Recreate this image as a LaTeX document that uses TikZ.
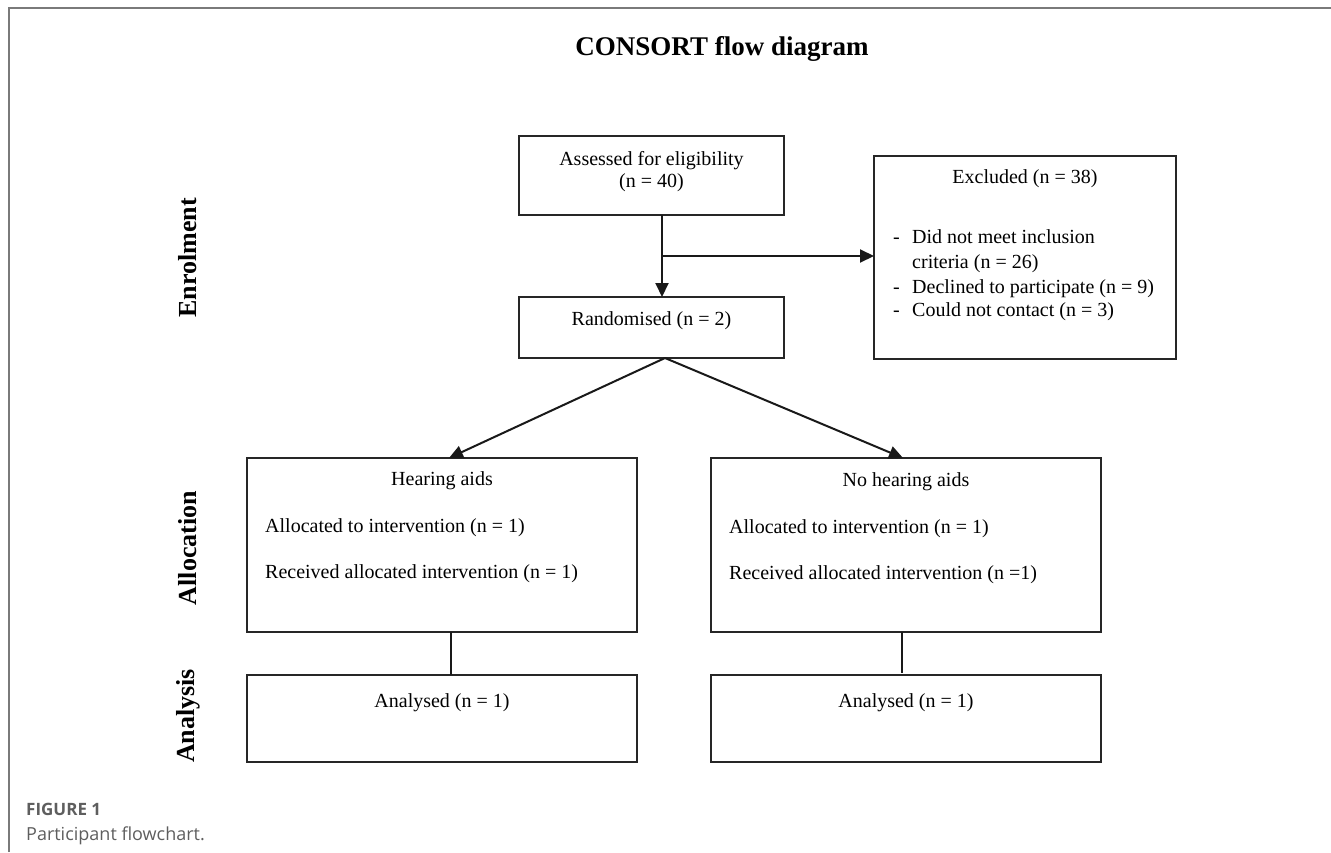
\documentclass[tikz,border=0pt]{standalone}
\usepackage{fontspec}
\setmainfont{Liberation Serif}
\newfontfamily\capfont{Open Sans}
\usetikzlibrary{arrows.meta}
\definecolor{framegray}{HTML}{7A7A7A}
\definecolor{capgray}{HTML}{5E5E5E}
\tikzset{
  box/.style={draw=black!85, line width=1.6pt, inner sep=0pt, outer sep=0pt},
  body/.style={font=\fontsize{20}{25}\selectfont, inner sep=0pt, align=center},
  bodyl/.style={font=\fontsize{20}{25}\selectfont, inner sep=0pt, anchor=base west},
  side/.style={font=\fontsize{26}{30}\selectfont\bfseries, rotate=90, inner sep=0pt},
  conn/.style={draw=black!90, line width=2pt},
  arr/.style={conn, -{Triangle[length=14pt,width=13pt]}},
}
\begin{document}
\begin{tikzpicture}[x=1pt,y=-1pt]
\useasboundingbox (0,0) rectangle (1331,852);
% frame
\draw[framegray, line width=1.5pt] (9,852) -- (9,8) -- (1331,8);
% title
\node[font=\fontsize{27}{30}\selectfont\bfseries, anchor=base] (title) at (722,55) {CONSORT flow diagram};
% side labels
\node[side] (enr) at (188,258) {Enrolment};
\node[side] (alloc) at (188,548) {Allocation};
\node[side] (anal) at (188,716) {Analysis};
% boxes
\node[box, minimum width=265pt, minimum height=79pt, anchor=north west] (assess) at (519,136) {};
\node[box, minimum width=265pt, minimum height=61pt, anchor=north west] (rand) at (519,297) {};
\node[box, minimum width=302pt, minimum height=203pt, anchor=north west] (excl) at (874,156) {};
\node[box, minimum width=390pt, minimum height=174pt, anchor=north west] (hear) at (247,458) {};
\node[box, minimum width=390pt, minimum height=174pt, anchor=north west] (noha) at (711,458) {};
\node[box, minimum width=390pt, minimum height=87pt, anchor=north west] (an1) at (247,675) {};
\node[box, minimum width=390pt, minimum height=87pt, anchor=north west] (an2) at (711,675) {};
% texts
\node[body, anchor=base] (t1) at (651.5,165) {Assessed for eligibility};
\node[body, anchor=base] (t2) at (651.5,187) {(n = 40)};
\node[body, anchor=base] (t3) at (651.5,325) {Randomised (n = 2)};
\node[body, anchor=base] (t4) at (1025,183) {Excluded (n = 38)};
\node[bodyl] (d1) at (893,243) {-};
\node[bodyl] (e1) at (912,243) {Did not meet inclusion};
\node[bodyl] (e2) at (912,268) {criteria (n = 26)};
\node[bodyl] (d2) at (893,293) {-};
\node[bodyl] (e3) at (912,293) {Declined to participate (n = 9)};
\node[bodyl] (d3) at (893,316) {-};
\node[bodyl] (e4) at (912,316) {Could not contact (n = 3)};
\node[body, anchor=base] (h0) at (442,485) {Hearing aids};
\node[bodyl] (h1) at (265,532) {Allocated to intervention (n = 1)};
\node[bodyl] (h2) at (265,578) {Received allocated intervention (n = 1)};
\node[body, anchor=base] (n0) at (906,486) {No hearing aids};
\node[bodyl] (n1) at (729,533) {Allocated to intervention (n = 1)};
\node[bodyl] (n2) at (729,579) {Received allocated intervention (n =1)};
\node[body, anchor=base] (a1) at (442,707) {Analysed (n = 1)};
\node[body, anchor=base] (a2) at (906,707) {Analysed (n = 1)};
% connectors
\coordinate (top) at (662,215);
\coordinate (br) at (662,256);
\coordinate (bot) at (662,297);
\coordinate (exin) at (874,256);
\coordinate (rb) at (665,358);
\coordinate (hin) at (449,458);
\coordinate (nin) at (903,458);
\draw[arr] (top) -- (bot);
\draw[arr] (br) -- (exin);
\draw[arr] (rb) -- (hin);
\draw[arr] (rb) -- (nin);
\draw[conn, line width=1.6pt] (451,632) -- (451,675);
\draw[conn, line width=1.6pt] (902,632) -- (902,673);
% caption
\node[font=\capfont\fontsize{17}{20}\selectfont\bfseries, text=capgray, anchor=base west, inner sep=0pt] (cap1) at (26,815) {FIGURE 1};
\node[font=\capfont\fontsize{18}{22}\selectfont, text=capgray, anchor=base west, inner sep=0pt] (cap2) at (26,840) {Participant flowchart.};
\end{tikzpicture}
\end{document}
